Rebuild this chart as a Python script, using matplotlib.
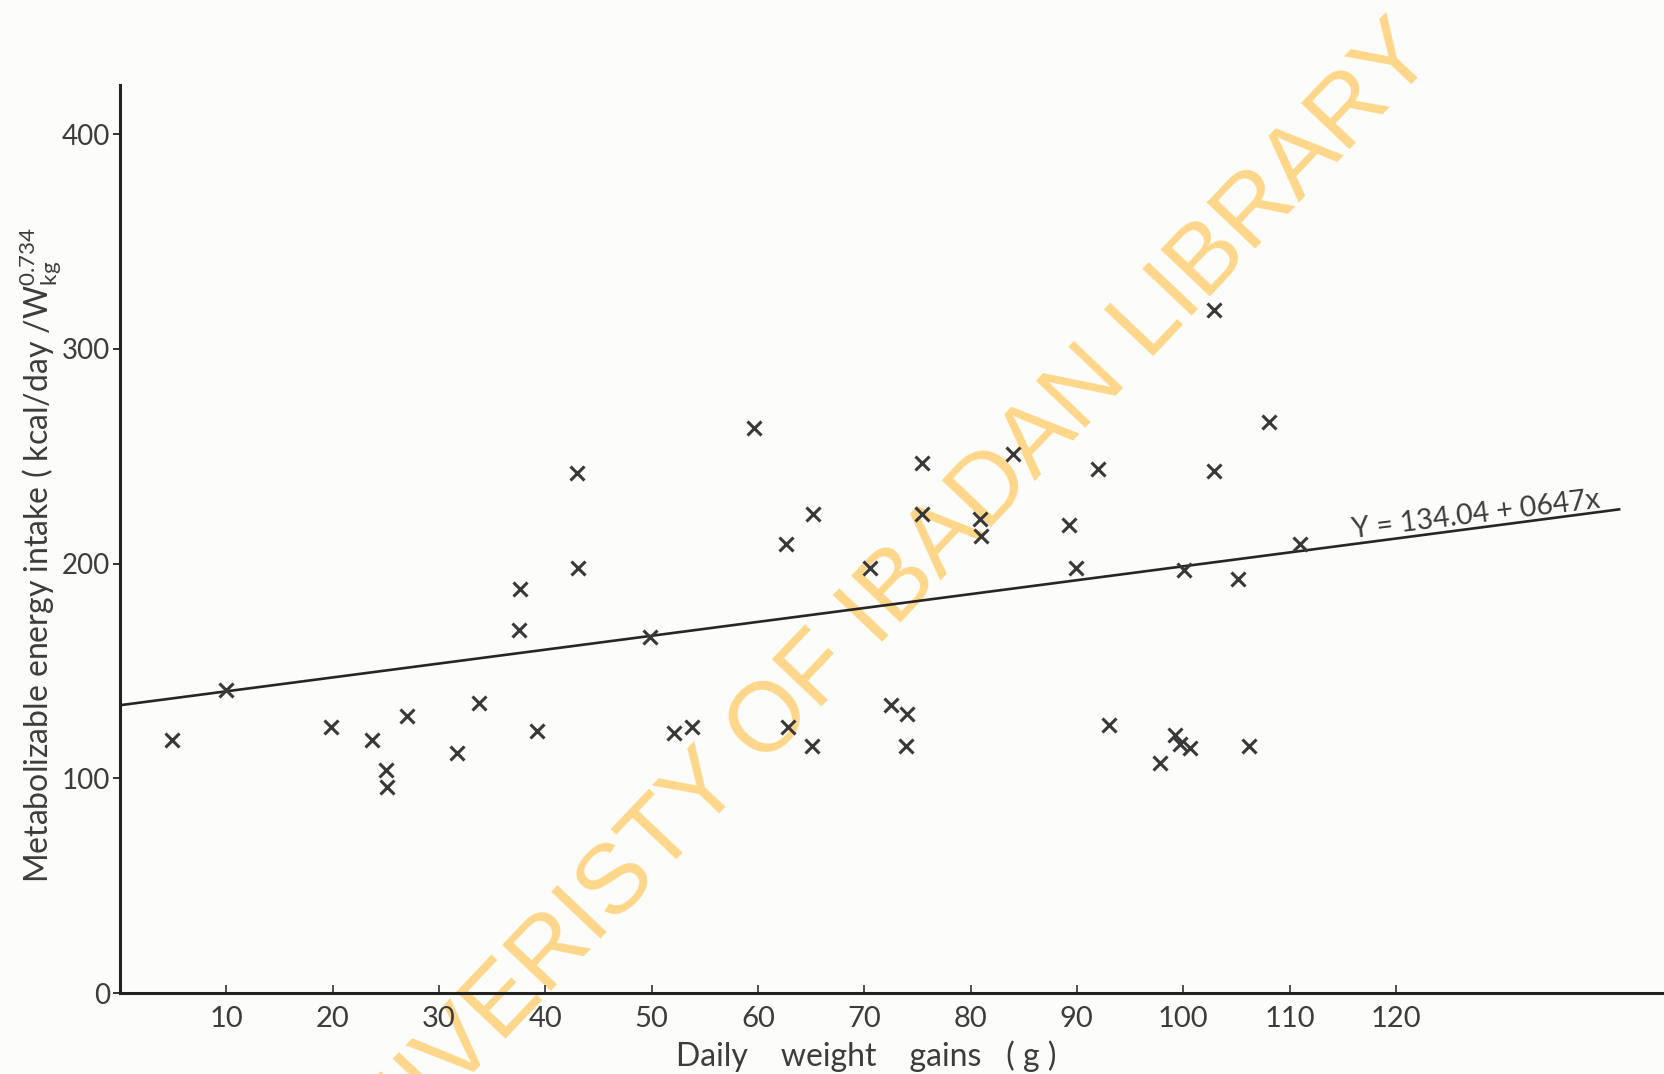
import matplotlib
matplotlib.use("Agg")
import matplotlib.pyplot as plt
import numpy as np

# daily weight gain (g) vs metabolizable energy intake
gain = [4.9, 10.0, 19.9, 23.7, 25.0, 25.1, 27.0, 31.7, 33.8, 37.6, 37.5, 39.2,
        43.0, 43.1, 49.9, 52.1, 53.8, 59.6, 62.6, 62.8, 65.2, 65.1, 70.5, 72.5,
        74.0, 73.9, 75.4, 75.4, 80.9, 81.0, 84.0, 89.3, 89.9, 92.0, 93.0, 97.8,
        99.2, 99.7, 100.6, 100.1, 102.9, 102.9, 105.2, 106.2, 108.1, 111.0]
energy = [118, 141, 124, 118, 104, 96, 129, 112, 135, 188, 169, 122,
          242, 198, 166, 121, 124, 263, 209, 124, 223, 115, 198, 134,
          130, 115, 247, 223, 221, 213, 251, 218, 198, 244, 125, 107,
          120, 116, 114, 197, 318, 243, 193, 115, 266, 209]

# regression line Y = 134.04 + 0.647x
fit_intercept = 134.04
fit_slope = 0.647
fit_range = [0, 141]

x_ticks = [10, 20, 30, 40, 50, 60, 70, 80, 90, 100, 110, 120]
y_ticks = [0, 100, 200, 300, 400]

ink = '#3c3c3c'
plt.rcParams['font.family'] = ['Lato', 'DejaVu Sans']

fig = plt.figure(figsize=(16.65, 10.74), dpi=100, facecolor='#fcfdfa')
ax = fig.add_axes([0.072, 0.0754, 0.926, 0.8456])
ax.set_facecolor('none')

ax.set_xlim(0, 145)
ax.set_ylim(0, 423)

for side in ['top', 'right']:
    ax.spines[side].set_visible(False)
for side in ['left', 'bottom']:
    ax.spines[side].set_linewidth(2.2)
    ax.spines[side].set_color('#222222')

ax.set_xticks(x_ticks)
ax.set_yticks(y_ticks)
ax.tick_params(axis='x', direction='in', length=6, width=1.2, pad=9,
               labelsize=21, labelcolor=ink, color='#333333')
ax.tick_params(axis='y', direction='out', length=5, width=1.4, pad=2,
               labelsize=20, labelcolor=ink, color='#333333')

# data points
ax.plot(gain, energy, linestyle='none', marker='x', markersize=9.5,
        markeredgewidth=2.2, color='#383838', zorder=3)

# fitted line
fx = np.array(fit_range, dtype=float)
ax.plot(fx, fit_intercept + fit_slope * fx, color='#262626', linewidth=1.9, zorder=2)
ax.text(127.5, 222.5, 'Y = 134.04 + 0647x', rotation=7, ha='center', va='center',
        fontsize=20.5, color=ink, zorder=3, rotation_mode='anchor')

ax.set_xlabel('Daily    weight    gains   ( g )', fontsize=23, color=ink)
ax.xaxis.set_label_coords(0.484, -0.052)
ax.set_ylabel(r'Metabolizable energy intake ( kcal/day /W$_{\mathregular{kg}}^{\mathregular{0.734}}$',
              fontsize=23, color=ink)
ax.yaxis.set_label_coords(-0.036, 0.483)

# library watermark over the scan
ax.text(0.5225, 0.4246, 'UNIVERISTY OF IBADAN LIBRARY', transform=fig.transFigure,
        rotation=46.5, rotation_mode='anchor', ha='center', va='center',
        fontsize=71, family='Liberation Sans', color='#ffd585', alpha=0.95,
        zorder=1, clip_on=False)

fig.savefig('out.png', dpi=100, facecolor=fig.get_facecolor())
